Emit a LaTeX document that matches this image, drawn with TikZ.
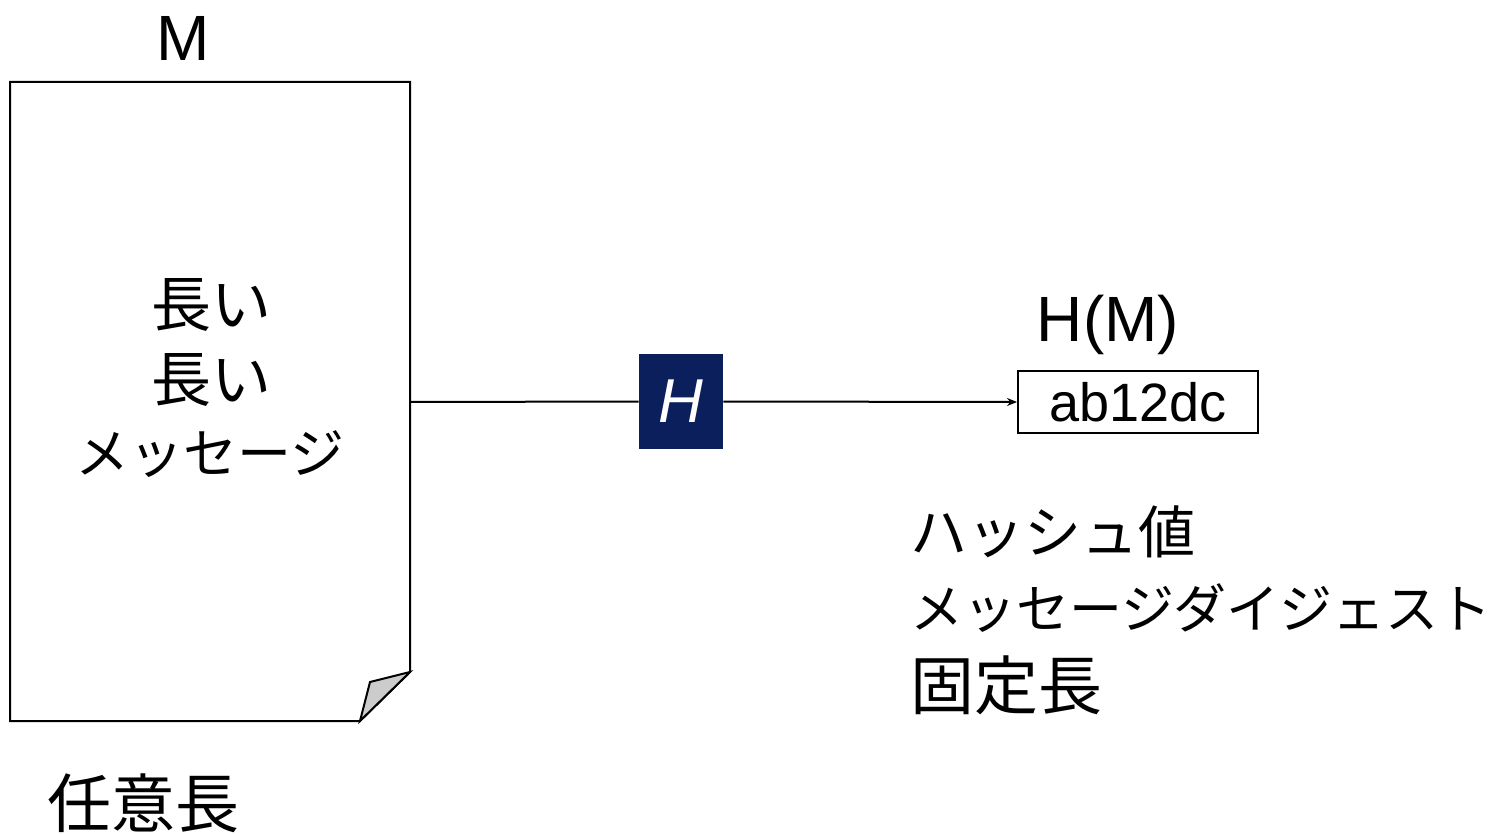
\documentclass[tikz,border=0pt]{standalone}
\usepackage{fontspec}
\usetikzlibrary{arrows.meta}
\setmainfont{Liberation Sans}
\newfontfamily\jp{Noto Sans CJK JP}
\definecolor{navy}{HTML}{0A1F5C}
\definecolor{foldgray}{HTML}{CCCCCC}
\tikzset{
  latin/.style={font=\fontsize{32}{38}\selectfont, inner sep=0pt},
  jptext/.style={font=\jp\fontsize{#1}{38}\selectfont, inner sep=0pt},
  outline/.style={draw=black, line width=1pt},
}
\begin{document}
\begin{tikzpicture}[x=0.5pt,y=-0.5pt]
\useasboundingbox (0,0) rectangle (1498,834);
% document page
\draw[outline, fill=white] (10,82) -- (410,82) -- (410,672) -- (360,721) -- (10,721) -- cycle;
\draw[outline, fill=foldgray, line join=miter] (410,672) -- (370,682) -- (360,721) -- cycle;
\coordinate (docright) at (410,402);
\node[latin] (m) at (183,38) {M};
\node[jptext=30] (l1) at (211,305) {長い};
\node[jptext=30] (l2) at (211,380) {長い};
\node[jptext=27] (l3) at (210,454) {メッセージ};
\node[jptext=32] (anylen) at (143,803) {任意長};
% hash function box
\node[fill=navy, minimum width=42pt, minimum height=47.5pt, inner sep=0pt,
      text=white, font=\fontsize{31}{34}\selectfont\itshape] (h) at (681,401.5) {H};
% result box
\node[outline, minimum width=120pt, minimum height=31pt, inner sep=0pt,
      font=\fontsize{27}{30}\selectfont] (res) at (1138,402) {ab12dc};
\node[latin] (hm) at (1108,325) {H(M)};
\draw[line width=1pt] (docright) -- (h.west);
\draw[line width=1pt, -{Stealth[length=5pt,width=4pt]}] (h.east) -- (res.west);
\node[jptext=28.5, anchor=west] (d1) at (910,532) {ハッシュ値};
\node[jptext=26.5, anchor=west] (d2) at (910,608) {メッセージダイジェスト};
\node[jptext=32, anchor=west] (d3) at (910,685) {固定長};
\end{tikzpicture}
\end{document}
